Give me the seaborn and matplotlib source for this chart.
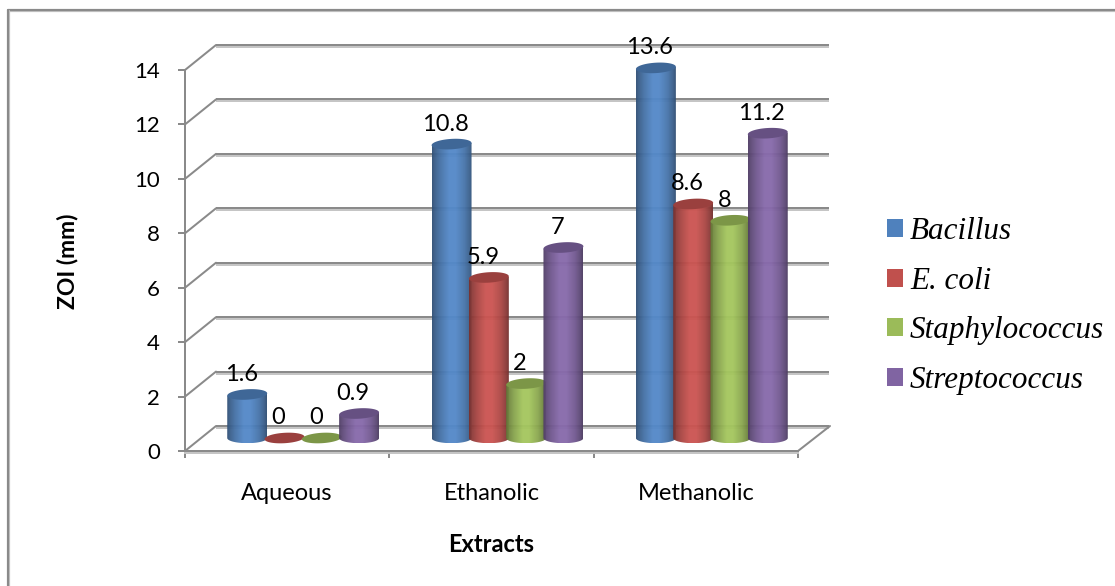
import numpy as np
import pandas as pd
import matplotlib
matplotlib.use("Agg")
import matplotlib.pyplot as plt
import matplotlib.patheffects as pe
from matplotlib.lines import Line2D
from matplotlib.patches import Patch, Polygon
import seaborn as sns

extracts = ["Aqueous", "Ethanolic", "Methanolic"]
organisms = ["Bacillus", "E. coli", "Staphylococcus", "Streptococcus"]
bacillus = [1.6, 10.8, 13.6]
e_coli = [0, 5.9, 8.6]
staphylococcus = [0, 2, 8]
streptococcus = [0.9, 7, 11.2]
colors = ["#4F81BD", "#C0504D", "#9BBB59", "#8064A2"]
y_ticks = [0, 2, 4, 6, 8, 10, 12, 14]

W, H = 1115, 586
GRID = "#8a8a8a"
SHADOW = [pe.SimpleLineShadow(offset=(0, -1.4), shadow_color="#c4c4c4", alpha=1.0, linewidth=1.4), pe.Normal()]
LINE_PT = 2 * 72 / 100
sans = "Lato"

sns.set_theme(style="white")
plt.rcParams["font.family"] = [sans, "DejaVu Sans"]

fig = plt.figure(figsize=(W / 100, H / 100), dpi=100, facecolor="white")


def plot_axes(dx=0, dy=0, z=1):
    """Axes over the chart floor, shifted in pixels to fake the 3-D depth."""
    left, right, top, bottom = 185, 798, 70, 451
    a = fig.add_axes([(left + dx) / W, (H - bottom + dy) / H, (right - left) / W, (bottom - top) / H])
    a.set_zorder(z)
    a.patch.set_alpha(0)
    a.set_xlim(-0.5, 2.5)
    a.set_ylim(0, 14)
    return a


# Back wall with its gridlines
back = plot_axes(31, 25, 1)
back.set_axis_off()
for t in y_ticks:
    back.plot([-0.5, 2.5], [t, t], color=GRID, lw=LINE_PT, solid_capstyle="butt",
              path_effects=SHADOW, clip_on=False)

# Front axes carrying ticks and labels
ax = plot_axes(0, 0, 2)
for side in ["top", "right"]:
    ax.spines[side].set_visible(False)
for side in ["left", "bottom"]:
    ax.spines[side].set_color(GRID)
    ax.spines[side].set_linewidth(LINE_PT)
    ax.spines[side].set_path_effects(SHADOW)
ax.set_yticks(y_ticks)
ax.set_xticks([0, 1, 2], extracts)
ax.set_xticks([-0.5, 0.5, 1.5, 2.5], minor=True)
ax.tick_params(axis="y", length=5, width=LINE_PT, color=GRID, labelsize=16, pad=13, labelcolor="black", left=True)
ax.tick_params(axis="x", which="major", length=0, labelsize=17, pad=23, labelcolor="black")
ax.tick_params(axis="x", which="minor", length=5, width=LINE_PT, color=GRID, bottom=True)
ax.set_xlim(-0.5, 2.5)
ax.set_ylim(0, 14)
ax.grid(False)

# Floor edges and side wall of the depth box
for t in y_ticks:
    ax.annotate("", xy=(-0.5, t), xytext=(31, 25), xycoords="data", textcoords="offset pixels",
                arrowprops=dict(arrowstyle="-", color=GRID, lw=LINE_PT, shrinkA=0, shrinkB=0))
ax.annotate("", xy=(2.5, 0), xytext=(32, 25), xycoords="data", textcoords="offset pixels",
            arrowprops=dict(arrowstyle="-", color=GRID, lw=LINE_PT, shrinkA=0, shrinkB=0))

ax.text(491 / W, 1 - 544 / H, "Extracts", transform=fig.transFigure, ha="center", va="center",
        fontsize=17, fontweight="bold", color="black")
ax.text(67 / W, 1 - 261 / H, "ZOI (mm)", transform=fig.transFigure, ha="center", va="center",
        rotation=90, fontsize=16.5, fontweight="bold", color="black")

# Bars come from seaborn; each one is then redrawn as a shaded cylinder
bars = plot_axes(16, 13, 3)
frame = pd.DataFrame({
    "extract": extracts * 4,
    "organism": np.repeat(organisms, 3),
    "zoi": bacillus + e_coli + staphylococcus + streptococcus,
})
sns.barplot(data=frame, x="extract", y="zoi", hue="organism", hue_order=organisms, order=extracts,
            palette=colors, width=0.73, gap=0, ax=bars, legend=False)
bars.set_xlim(-0.5, 2.5)
bars.set_ylim(0, 14)
bars.set_axis_off()
bars.set_autoscale_on(False)

p0 = bars.transData.transform((0, 0))
p1 = bars.transData.transform((1, 1))
ux, uy = p1[0] - p0[0], p1[1] - p0[1]
RX, RY, TILT = 20.0, 5.2, np.radians(3.5)
profile_x = [0.0, 0.06, 0.2, 0.42, 0.58, 0.8, 0.94, 1.0]
profile_s = [0.62, 0.72, 0.88, 1.06, 1.06, 0.9, 0.72, 0.60]
shade = np.interp(np.linspace(0, 1, 80), profile_x, profile_s)


def ellipse_points(cx, cy, t, tilt=0.0):
    ex = RX * np.cos(t) * np.cos(tilt) - RY * np.sin(t) * np.sin(tilt)
    ey = RX * np.cos(t) * np.sin(tilt) + RY * np.sin(t) * np.cos(tilt)
    return np.column_stack([cx + ex / ux, cy + ey / uy])


drawn = []
for container, color in zip(bars.containers, colors):
    for patch in container:
        drawn.append((patch.get_x() + patch.get_width() / 2, patch.get_height(), color))
        patch.set_visible(False)
drawn.sort(key=lambda item: item[0])

for z, (cx, value, color) in enumerate(drawn):
    rgb = np.array(matplotlib.colors.to_rgb(color))
    strip = np.clip(shade[:, None] * rgb, 0, 1)[None, :, :]
    if value > 0:
        im = bars.imshow(strip, extent=[cx - RX / ux, cx + RX / ux, -RY / uy, value], aspect="auto",
                         origin="lower", interpolation="bilinear", alpha=0.96, zorder=3 + z * 0.01)
        lower = ellipse_points(cx, 0, np.linspace(np.pi, 2 * np.pi, 50))
        upper = ellipse_points(cx, value, np.array([0.0, np.pi]), TILT)
        outline = Polygon(np.vstack([lower, upper]), closed=True, transform=bars.transData)
        im.set_clip_box(fig.bbox)
        im.set_clip_path(outline)
    cap = ellipse_points(cx, value, np.linspace(0, 2 * np.pi, 80), TILT)
    bars.add_patch(Polygon(cap, closed=True, facecolor=np.clip(rgb * 0.8, 0, 1), edgecolor="none",
                           clip_on=False, zorder=3 + z * 0.01 + 0.005))
    bars.annotate(f"{value:g}", xy=(cx, value), xytext=(-6, 20), textcoords="offset pixels",
                  ha="center", va="center", fontsize=17, color="black", zorder=10, annotation_clip=False)

bars.set_xlim(-0.5, 2.5)
bars.set_ylim(0, 14)

# Legend with squares and italic species names
handles = [Patch(facecolor=c, edgecolor="none") for c in colors]
fig.legend(handles, organisms, loc="center left", bbox_to_anchor=(887 / W, 1 - 306 / H), frameon=False,
           prop={"family": "Liberation Serif", "style": "italic", "size": 22.4},
           handlelength=0.51, handleheight=0.51, handletextpad=0.23, labelspacing=0.67,
           borderpad=0, borderaxespad=0, labelcolor="black")

# Outer chart border, open on the right and at the bottom
for xs, ys in [([8 / W, 1], [1 - 10 / H, 1 - 10 / H]), ([8 / W, 8 / W], [1 - 10 / H, 0])]:
    fig.add_artist(Line2D(xs, ys, transform=fig.transFigure, color="#8a8a8a", lw=LINE_PT * 1.1,
                          path_effects=[pe.SimpleLineShadow(offset=(0.9, -0.9), shadow_color="#c4c4c4",
                                                            alpha=1.0), pe.Normal()]))

fig.savefig("out.png", dpi=100, facecolor="white")
